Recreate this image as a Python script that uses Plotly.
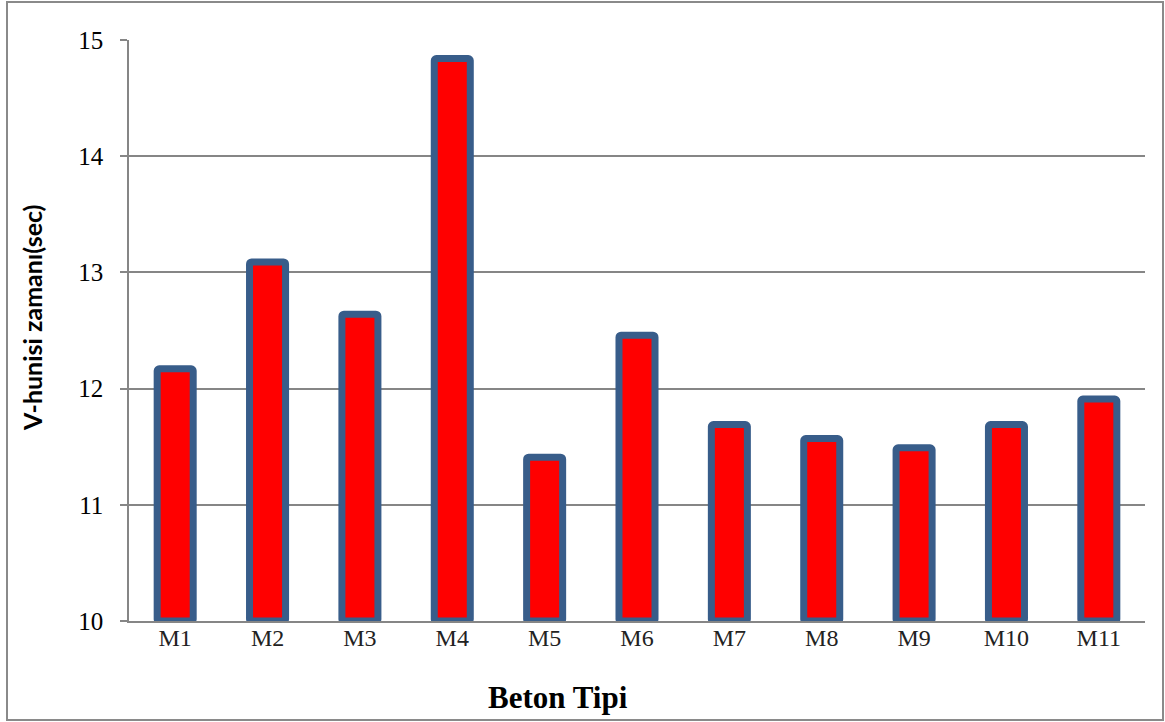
import plotly.graph_objects as go

categories = ["M1", "M2", "M3", "M4", "M5", "M6", "M7", "M8", "M9", "M10", "M11"]
values = [12.17, 13.09, 12.64, 14.84, 11.41, 12.46, 11.69, 11.57, 11.49, 11.69, 11.91]
y_ticks = [10, 11, 12, 13, 14, 15]

W, H = 1165, 722
L, R, T, B = 129, 20, 40, 101
pw, ph = W - L - R, H - T - B


def px_x(x):
    return (x - L) / pw


def px_y(y):
    return (H - B - y) / ph


fig = go.Figure(go.Bar(
    x=categories, y=[v - 10 for v in values], base=10,
    width=0.39,
    marker=dict(color="#FF0000", line=dict(color="#385D8A", width=7), cornerradius=2),
    hoverinfo="skip",
))

grid = "#868686"
fig.update_layout(
    width=W, height=H,
    margin=dict(l=L, r=R, t=T, b=B),
    plot_bgcolor="white", paper_bgcolor="white",
    showlegend=False,
    xaxis=dict(
        showline=True, linecolor=grid, linewidth=1.5,
        ticks="", showgrid=False,
        ticklabelstandoff=-6,
        tickfont=dict(family="Liberation Serif", size=24, color="#222"),
    ),
    yaxis=dict(
        range=[10, 15], tickvals=y_ticks,
        showline=True, linecolor=grid, linewidth=1.5,
        showgrid=True, gridcolor=grid, gridwidth=1.5,
        ticks="outside", ticklen=7, tickcolor=grid, tickwidth=1.5,
        ticklabelstandoff=12,
        tickfont=dict(family="Liberation Serif", size=25, color="black"),
        zeroline=False,
    ),
    annotations=[
        dict(text="<b>Beton Tipi</b>", xref="paper", yref="paper",
             x=px_x(558), y=px_y(697),
             xanchor="center", yanchor="middle", showarrow=False,
             font=dict(family="Liberation Serif", size=31, color="black")),
        dict(text="<b>V-hunisi zamanı(sec)</b>", xref="paper", yref="paper",
             x=px_x(32), y=px_y(318),
             xanchor="center", yanchor="middle", showarrow=False, textangle=-90,
             font=dict(family="Lato", size=25, color="black")),
    ],
    shapes=[
        dict(type="rect", xref="paper", yref="paper",
             x0=px_x(7), x1=px_x(1163),
             y0=px_y(720), y1=px_y(2),
             line=dict(color="#8a8a8a", width=2), fillcolor="rgba(0,0,0,0)", layer="below"),
    ],
)

fig.write_html("out.html", config={"displayModeBar": False},
               post_script="document.body.style.margin='0';document.body.style.overflow='hidden';")
